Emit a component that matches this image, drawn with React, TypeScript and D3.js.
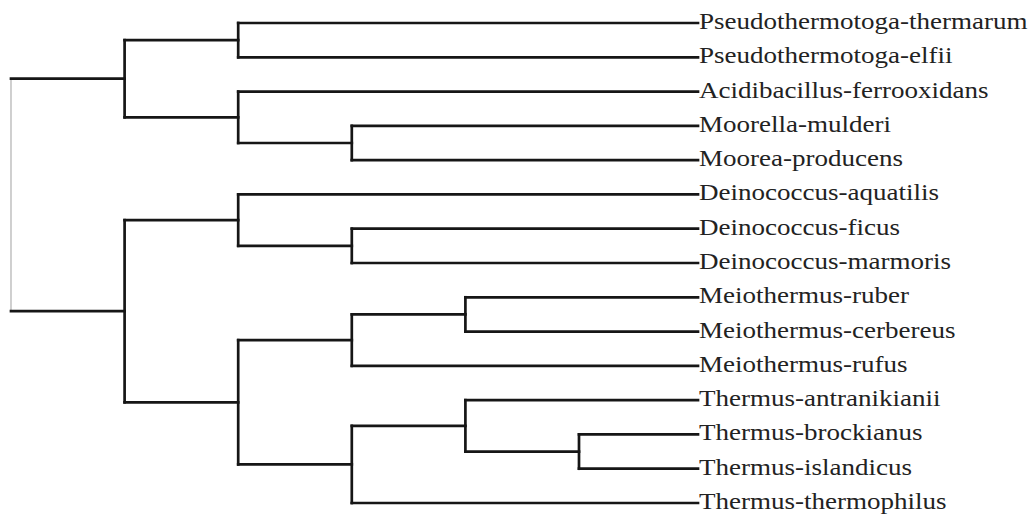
import React from "react";
import * as d3 from "d3";

// Tree topology as nested pairs; leaves are taxon names.
type Node = string | Node[];

const pseudothermotoga: Node = ["Pseudothermotoga-thermarum", "Pseudothermotoga-elfii"];
const acidiMoor: Node = ["Acidibacillus-ferrooxidans", ["Moorella-mulderi", "Moorea-producens"]];
const deinococcus: Node = ["Deinococcus-aquatilis", ["Deinococcus-ficus", "Deinococcus-marmoris"]];
const meiothermus: Node = [["Meiothermus-ruber", "Meiothermus-cerbereus"], "Meiothermus-rufus"];
const thermus: Node = [
  ["Thermus-antranikianii", ["Thermus-brockianus", "Thermus-islandicus"]],
  "Thermus-thermophilus",
];
const treeData: Node = [
  [pseudothermotoga, acidiMoor],
  [deinococcus, [meiothermus, thermus]],
];

const W = 1036;
const H = 517;

interface TNode {
  name?: string;
  children?: TNode[];
}

function toTree(n: Node): TNode {
  return typeof n === "string" ? { name: n } : { children: n.map(toTree) };
}

export default function App() {
  const root = d3.hierarchy<TNode>(toTree(treeData));
  const leaves = root.leaves();
  const maxDepth = d3.max(root.descendants().filter((d) => d.children), (d) => d.depth) ?? 0;

  const yLeaf = d3
    .scaleLinear()
    .domain([0, leaves.length - 1])
    .range([23, 503]);
  const xDepth = d3.scaleLinear().domain([0, maxDepth]).range([11, 579]);
  const leafX = 698;

  const pos = new Map<d3.HierarchyNode<TNode>, { x: number; y: number }>();
  leaves.forEach((l, i) => pos.set(l, { x: leafX, y: yLeaf(i) }));
  root.eachAfter((n) => {
    if (n.children) {
      const ys = n.children.map((c) => pos.get(c)!.y);
      pos.set(n, { x: xDepth(n.depth), y: (ys[0] + ys[ys.length - 1]) / 2 });
    }
  });

  const internals = root.descendants().filter((d) => d.children);
  const stroke = "#161616";
  const sw = 2.7;

  return (
    <svg width={W} height={H} style={{ position: "absolute", left: 0, top: 0, background: "#fff" }}>
      <g fill="none" strokeLinecap="square">
        {internals.map((n, i) => {
          const p = pos.get(n)!;
          const cs = n.children!.map((c) => pos.get(c)!);
          const isRoot = n.depth === 0;
          return (
            <g key={i}>
              <line
                x1={p.x}
                x2={p.x}
                y1={cs[0].y}
                y2={cs[cs.length - 1].y}
                stroke={isRoot ? "#b0b0b0" : stroke}
                strokeWidth={isRoot ? 1.2 : sw}
              />
              {cs.map((c, j) => (
                <line key={j} x1={p.x} x2={c.x} y1={c.y} y2={c.y} stroke={stroke} strokeWidth={sw} />
              ))}
            </g>
          );
        })}
      </g>
      <g fontFamily="'Liberation Serif', 'Times New Roman', serif" fontSize={23} fill="#222">
        {leaves.map((l, i) => {
          const p = pos.get(l)!;
          return (
            <text key={i} transform={`translate(${p.x + 1},${p.y + 6}) scale(1.175,1)`}>
              {l.data.name}
            </text>
          );
        })}
      </g>
    </svg>
  );
}
